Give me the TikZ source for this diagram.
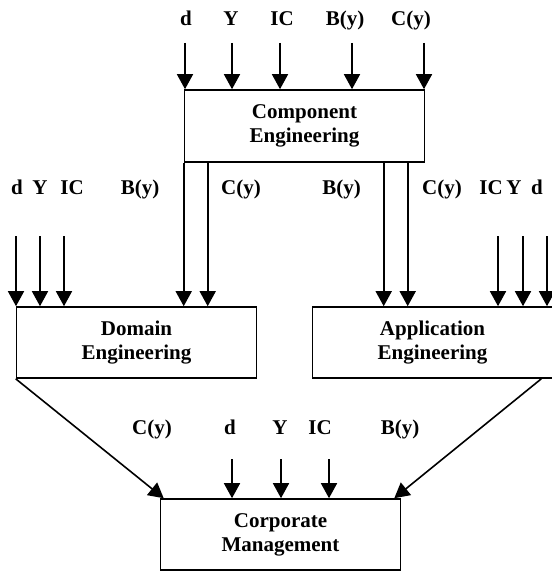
\documentclass[tikz,border=0pt]{standalone}
\usepackage{fontspec}
\setmainfont{Liberation Serif}
\usetikzlibrary{positioning,arrows.meta,calc}

\begin{document}
\begin{tikzpicture}[x=0.5pt,y=-0.5pt,line width=0.8pt,
  every node/.style={font=\fontsize{10.5}{12}\selectfont\bfseries},
  blockbox/.style={draw,minimum width=120pt,minimum height=35.5pt,inner sep=0pt,align=center},
  feed/.style={-{Triangle[length=7.5pt,width=8pt]}},
  lbl/.style={anchor=base,inner sep=0pt}]
\useasboundingbox (0,0) rectangle (551,572);
% blocks
\node[blockbox,minimum height=36pt] (comp) at (304.5,126) {Component\\Engineering};
\node[blockbox] (dom) at (136.5,342.5) {Domain\\Engineering};
\node[blockbox] (app) at (432.5,342.5) {Application\\Engineering};
\node[blockbox] (corp) at (280.5,534.5) {Corporate\\Management};
% inputs of component engineering
\node[lbl] (ce-d) at (186,26) {d};
\node[lbl] (ce-Y) at (231,26) {Y};
\node[lbl] (ce-IC) at (282,26) {IC};
\node[lbl] (ce-B) at (345,26) {B(y)};
\node[lbl] (ce-C) at (411,26) {C(y)};
\coordinate (ce-d-in) at (185,43);
\coordinate (ce-Y-in) at (232,43);
\coordinate (ce-IC-in) at (280,43);
\coordinate (ce-B-in) at (352,43);
\coordinate (ce-C-in) at (424,43);
\draw[feed] (ce-d-in) -- (ce-d-in |- comp.north);
\draw[feed] (ce-Y-in) -- (ce-Y-in |- comp.north);
\draw[feed] (ce-IC-in) -- (ce-IC-in |- comp.north);
\draw[feed] (ce-B-in) -- (ce-B-in |- comp.north);
\draw[feed] (ce-C-in) -- (ce-C-in |- comp.north);
% component engineering to domain and application engineering
\coordinate (cd-B) at (comp.south west);
\coordinate (cd-C) at ($(comp.south west)+(24,0)$);
\coordinate (ca-B) at ($(comp.south west)+(200,0)$);
\coordinate (ca-C) at ($(comp.south west)+(224,0)$);
\draw[feed] (cd-B) -- (cd-B |- dom.north);
\draw[feed] (cd-C) -- (cd-C |- dom.north);
\draw[feed] (ca-B) -- (ca-B |- app.north);
\draw[feed] (ca-C) -- (ca-C |- app.north);
\node[lbl] (cd-B-l) at (140,195) {B(y)};
\node[lbl] (cd-C-l) at (241,195) {C(y)};
\node[lbl] (ca-B-l) at (341.5,195) {B(y)};
\node[lbl] (ca-C-l) at (442,195) {C(y)};
% inputs of domain engineering
\node[lbl] (de-d) at (17,195) {d};
\node[lbl] (de-Y) at (40,195) {Y};
\node[lbl] (de-IC) at (72,195) {IC};
\coordinate (de-d-in) at (16,236);
\coordinate (de-Y-in) at (40,236);
\coordinate (de-IC-in) at (64,236);
\draw[feed] (de-d-in) -- (de-d-in |- dom.north);
\draw[feed] (de-Y-in) -- (de-Y-in |- dom.north);
\draw[feed] (de-IC-in) -- (de-IC-in |- dom.north);
% inputs of application engineering
\node[lbl] (ae-IC) at (491,195) {IC};
\node[lbl] (ae-Y) at (514,195) {Y};
\node[lbl] (ae-d) at (537,195) {d};
\coordinate (ae-IC-in) at (498,236);
\coordinate (ae-Y-in) at (523,236);
\coordinate (ae-d-in) at (547,236);
\draw[feed] (ae-IC-in) -- (ae-IC-in |- app.north);
\draw[feed] (ae-Y-in) -- (ae-Y-in |- app.north);
\draw[feed] (ae-d-in) -- (ae-d-in |- app.north);
% into corporate management
\draw[feed] (dom.south west) -- ($(corp.north west)+(4,0)$);
\draw[feed] ($(app.south east)+(-12,0)$) -- ($(corp.north east)+(-7,0)$);
\node[lbl] (cm-C) at (152,434) {C(y)};
\node[lbl] (cm-d) at (230,434) {d};
\node[lbl] (cm-Y) at (280,434) {Y};
\node[lbl] (cm-IC) at (320,434) {IC};
\node[lbl] (cm-B) at (400,434) {B(y)};
\coordinate (cm-d-in) at (232,459);
\coordinate (cm-Y-in) at (281,459);
\coordinate (cm-IC-in) at (329,459);
\draw[feed] (cm-d-in) -- (cm-d-in |- corp.north);
\draw[feed] (cm-Y-in) -- (cm-Y-in |- corp.north);
\draw[feed] (cm-IC-in) -- (cm-IC-in |- corp.north);
\end{tikzpicture}
\end{document}
